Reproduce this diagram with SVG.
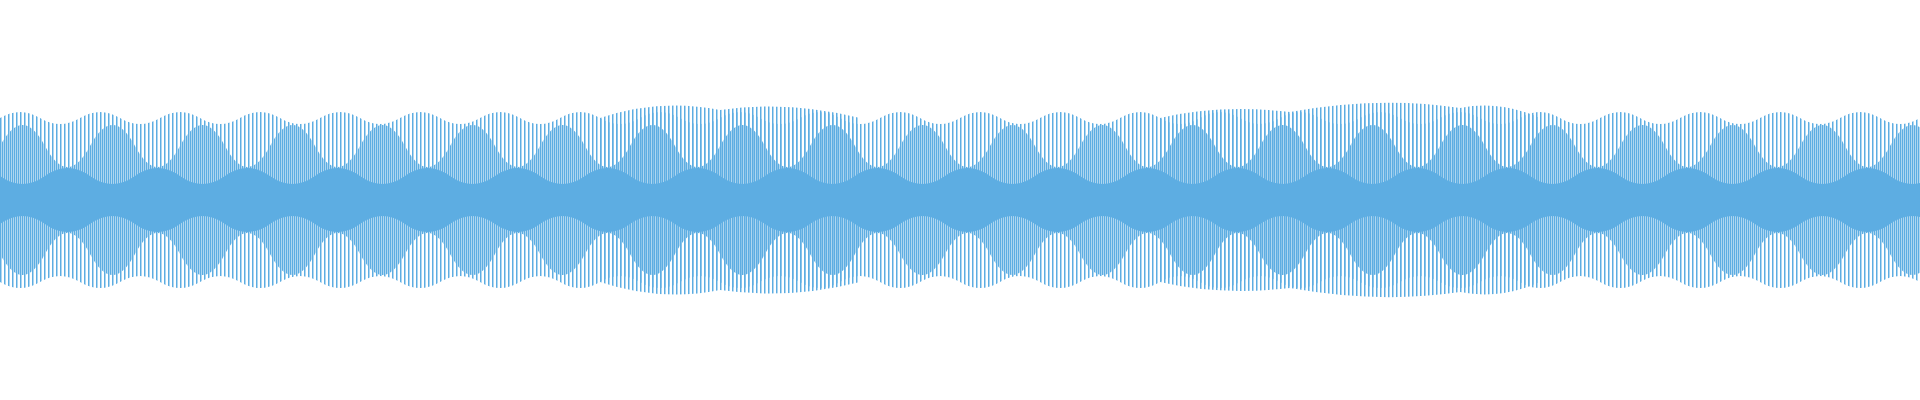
<svg xmlns="http://www.w3.org/2000/svg" width="1920" height="400" viewBox="0 0 1920 400">
<defs>
<pattern id="pa" patternUnits="userSpaceOnUse" x="0" y="0" width="4" height="400"><rect x="0" y="0" width="1.5" height="400" fill="#5dade2"/></pattern>
<pattern id="pb" patternUnits="userSpaceOnUse" x="0" y="0" width="4" height="400"><rect x="2" y="0" width="1.5" height="400" fill="#5dade2"/></pattern>
<g id="half">
<path fill="url(#pa)" d="M0,200 L0,118 Q20,106 40,118 T80,118 T120,118 T160,118 T200,118 T240,118 T280,118 T320,118 T360,118 T400,118 T440,118 T480,118 T520,118 T560,118 T600,118 T640,118 T680,118 T720,118 T760,118 T800,118 T840,118 T880,118 T920,118 T960,118 T1000,118 T1040,118 T1080,118 T1120,118 T1160,118 T1200,118 T1240,118 T1280,118 T1320,118 T1360,118 T1400,118 T1440,118 T1480,118 T1520,118 T1560,118 T1600,118 T1640,118 T1680,118 T1720,118 T1760,118 T1800,118 T1840,118 T1880,118 T1920,118 L1920,200 Z"/>
<path fill="url(#pa)" d="M600,200 L600,118 Q660,98 720,110 Q790,100 860,118 L860,200 Z"/>
<path fill="url(#pa)" d="M1160,200 L1160,118 Q1220,104 1290,112 Q1380,96 1460,108 Q1500,100 1540,118 L1540,200 Z"/>
<path fill="url(#pb)" d="M0,200 L0,146 Q22.5,104 45,146 T90,146 T135,146 T180,146 T225,146 T270,146 T315,146 T360,146 T405,146 T450,146 T495,146 T540,146 T585,146 T630,146 T675,146 T720,146 T765,146 T810,146 T855,146 T900,146 T945,146 T990,146 T1035,146 T1080,146 T1125,146 T1170,146 T1215,146 T1260,146 T1305,146 T1350,146 T1395,146 T1440,146 T1485,146 T1530,146 T1575,146 T1620,146 T1665,146 T1710,146 T1755,146 T1800,146 T1845,146 T1890,146 T1935,146 L1935,200 Z"/>
<path fill="#5dade2" d="M0,201 L0,176 Q22.5,192 45,176 T90,176 T135,176 T180,176 T225,176 T270,176 T315,176 T360,176 T405,176 T450,176 T495,176 T540,176 T585,176 T630,176 T675,176 T720,176 T765,176 T810,176 T855,176 T900,176 T945,176 T990,176 T1035,176 T1080,176 T1125,176 T1170,176 T1215,176 T1260,176 T1305,176 T1350,176 T1395,176 T1440,176 T1485,176 T1530,176 T1575,176 T1620,176 T1665,176 T1710,176 T1755,176 T1800,176 T1845,176 T1890,176 T1935,176 L1935,201 Z"/>
</g>
</defs>
<rect width="1920" height="400" fill="#ffffff"/>
<use href="#half"/>
<use href="#half" transform="translate(0,400) scale(1,-1)"/>
</svg>
